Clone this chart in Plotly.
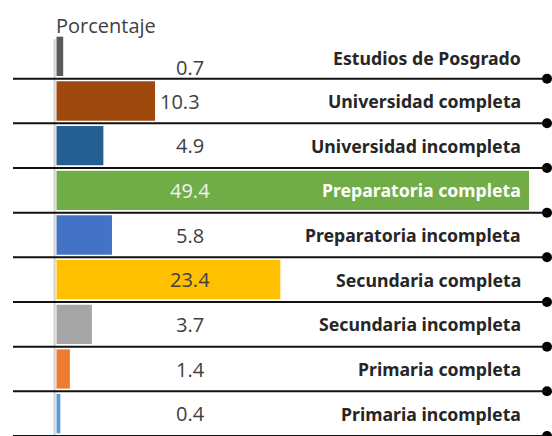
import plotly.graph_objects as go

categories = ["Estudios de Posgrado", "Universidad completa", "Universidad incompleta",
              "Preparatoria completa", "Preparatoria incompleta", "Secundaria completa",
              "Secundaria incompleta", "Primaria completa", "Primaria incompleta"]
values = [0.7, 10.3, 4.9, 49.4, 5.8, 23.4, 3.7, 1.4, 0.4]
value_labels = ["0.7", "10.3", "4.9", "49.4", "5.8", "23.4", "3.7", "1.4", "0.4"]
colors = ["#595959", "#9E480E", "#255E91", "#70AD47", "#4472C4", "#FFC000",
          "#A5A5A5", "#ED7D31", "#5B9BD5"]
axis_title = "Porcentaje"

W, H = 552, 436
top = 34
px_per_unit = (529 - 56.5) / 49.4
x0px = 56.5
xmin = -x0px / px_per_unit
xmax = (W - x0px) / px_per_unit
def px2x(p):
    return (p - x0px) / px_per_unit

n = len(categories)
ypos = list(range(n))

fig = go.Figure()
fig.add_trace(go.Bar(
    x=values, y=ypos, orientation="h",
    marker=dict(color=colors, line=dict(width=0)),
    width=0.88, hoverinfo="skip", showlegend=False,
))

# separator lines and end dots
sep_y = [i + 0.5 for i in ypos]
for yy in sep_y:
    fig.add_shape(type="line", xref="x", yref="y", x0=px2x(13), x1=px2x(547),
                  y0=yy, y1=yy, line=dict(color="#111111", width=2), layer="above")
fig.add_trace(go.Scatter(
    x=[px2x(547)] * n, y=sep_y, mode="markers",
    marker=dict(color="#000000", size=10), hoverinfo="skip", showlegend=False,
))

# vertical axis line
fig.add_shape(type="line", xref="x", yref="y", x0=-0.2, x1=-0.2, y0=-0.38, y1=n - 0.5,
              line=dict(color="#d0d0d0", width=2), layer="below")

# value labels
for i, (v, lab) in enumerate(zip(values, value_labels)):
    if 9 < v < 16:
        lx, anchor = v + 0.3, "left"
    else:
        lx, anchor = 14.0, "center"
    col = "#F2F2F2" if v > 40 else "#404040"
    fig.add_annotation(x=lx, y=i, text=lab, showarrow=False, xanchor=anchor,
                       yanchor="middle", yshift=-11 if i == 0 else 0,
                       font=dict(family="Open Sans", size=20, color=col))

# category labels
for i, (c, v) in enumerate(zip(categories, values)):
    col = "#FFFFFF" if v > 40 else "#262626"
    fig.add_annotation(x=px2x(523), y=i, text="<b>" + c + "</b>", showarrow=False,
                       xanchor="right", yanchor="middle", yshift=-2 if i == 0 else 0,
                       font=dict(family="Noto Sans", size=17.7, color=col))

fig.add_annotation(xref="x", yref="paper", x=-0.25, y=1 + 9 / (H - top), text=axis_title,
                   showarrow=False, xanchor="left", yanchor="middle",
                   font=dict(family="Open Sans", size=20, color="#404040"))

fig.update_layout(
    width=W, height=H, margin=dict(l=0, r=0, t=top, b=0),
    paper_bgcolor="white", plot_bgcolor="white",
    xaxis=dict(range=[xmin, xmax], visible=False, fixedrange=True),
    yaxis=dict(range=[n - 0.5, -0.5], visible=False, fixedrange=True),
    bargap=0.12,
)
fig.write_html("out.html", config={"displayModeBar": False},
               post_script="document.body.style.margin='0';")
